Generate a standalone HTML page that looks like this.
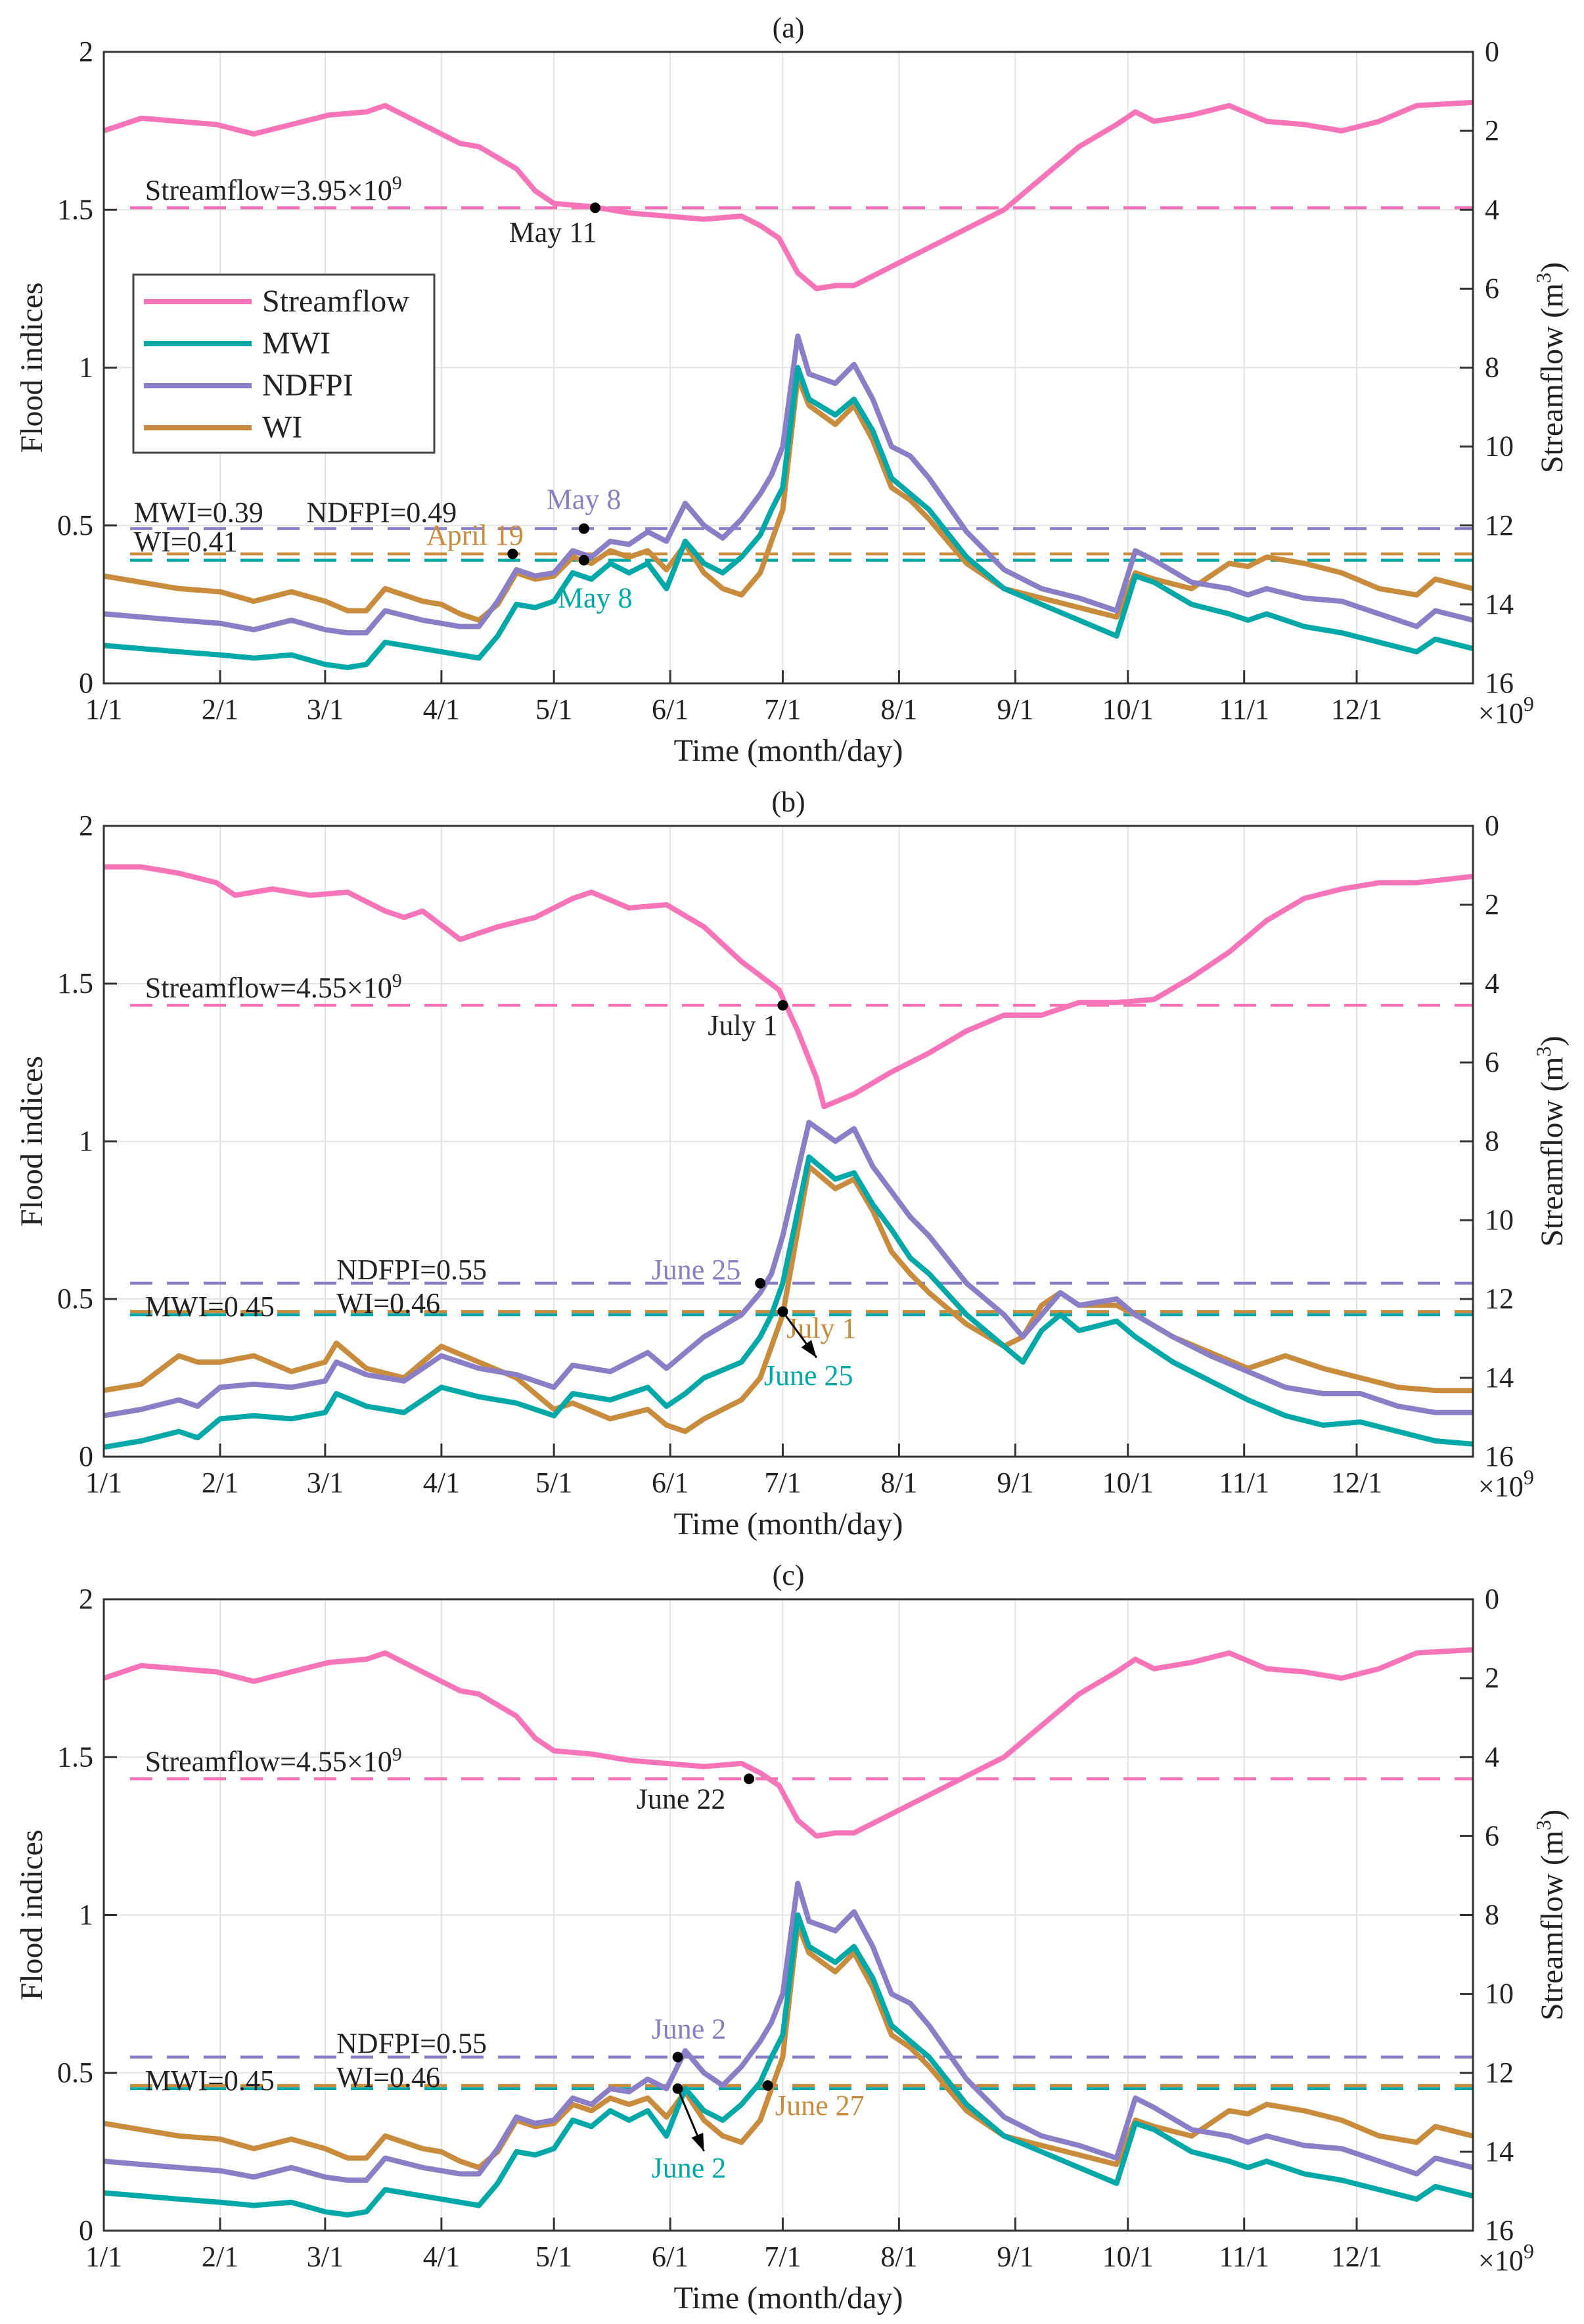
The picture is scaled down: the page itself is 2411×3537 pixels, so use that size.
<!DOCTYPE html>
<html><head><meta charset="utf-8"><style>
html,body{margin:0;padding:0;background:#fff;}
svg{display:block;font-family:"Liberation Serif","DejaVu Serif",serif;}
</style></head><body>
<svg id="fig" xmlns="http://www.w3.org/2000/svg" width="2411" height="3537" viewBox="0 0 2411 3537"></svg>
<script>
// ---- shared data ----
const monthTicks = [0,31,59,90,120,151,181,212,243,273,304,334];
const monthLabels = ["1/1","2/1","3/1","4/1","5/1","6/1","7/1","8/1","9/1","10/1","11/1","12/1"];
const leftTicks = [0,0.5,1,1.5,2];
const leftTickLabels = ["0","0.5","1","1.5","2"];
const rightTicks = [0,2,4,6,8,10,12,14,16];

// panel a / c (same series)
const sfDaysA = [0,10,20,30,40,50,60,70,75,85,95,100,110,115,120,130,140,150,160,170,175,180,185,190,195,200,210,220,230,240,250,260,270,275,280,290,300,310,320,330,340,350,365];
const sfA = [2.0,1.68,1.76,1.84,2.08,1.84,1.6,1.52,1.36,1.84,2.32,2.4,2.96,3.52,3.84,3.92,4.08,4.16,4.24,4.16,4.4,4.72,5.6,6.0,5.92,5.92,5.44,4.96,4.48,4.0,3.2,2.4,1.84,1.52,1.76,1.6,1.36,1.76,1.84,2.0,1.76,1.36,1.28];
const idxDaysA = [0,10,20,31,40,50,59,65,70,75,85,90,95,100,105,110,115,120,125,130,135,140,145,150,155,160,165,170,175,178,181,185,188,195,200,205,210,215,220,230,240,250,260,270,275,280,290,300,305,310,320,330,340,350,355,365];
const mwiA = [0.12,0.11,0.10,0.09,0.08,0.09,0.06,0.05,0.06,0.13,0.11,0.10,0.09,0.08,0.15,0.25,0.24,0.26,0.35,0.33,0.38,0.35,0.38,0.30,0.45,0.38,0.35,0.40,0.47,0.55,0.62,1.00,0.90,0.85,0.90,0.80,0.65,0.60,0.55,0.40,0.30,0.25,0.20,0.15,0.34,0.32,0.25,0.22,0.20,0.22,0.18,0.16,0.13,0.10,0.14,0.11];
const ndfpiA = [0.22,0.21,0.20,0.19,0.17,0.20,0.17,0.16,0.16,0.23,0.20,0.19,0.18,0.18,0.26,0.36,0.34,0.35,0.42,0.40,0.45,0.44,0.48,0.45,0.57,0.50,0.46,0.52,0.60,0.66,0.75,1.10,0.98,0.95,1.01,0.90,0.75,0.72,0.65,0.48,0.36,0.30,0.27,0.23,0.42,0.39,0.32,0.30,0.28,0.30,0.27,0.26,0.22,0.18,0.23,0.20];
const wiA = [0.34,0.32,0.30,0.29,0.26,0.29,0.26,0.23,0.23,0.30,0.26,0.25,0.22,0.20,0.25,0.35,0.33,0.34,0.40,0.38,0.42,0.40,0.42,0.36,0.44,0.35,0.30,0.28,0.35,0.45,0.55,0.97,0.88,0.82,0.88,0.77,0.62,0.58,0.52,0.38,0.30,0.27,0.24,0.21,0.35,0.33,0.30,0.38,0.37,0.40,0.38,0.35,0.30,0.28,0.33,0.30];

// panel b
const sfDaysB = [0,10,20,30,35,45,55,65,75,80,85,95,105,115,125,130,140,150,160,170,180,185,190,192,200,210,220,230,240,250,260,270,280,290,300,310,320,330,340,350,365];
const sfB = [1.04,1.04,1.2,1.44,1.76,1.6,1.76,1.68,2.16,2.32,2.16,2.88,2.56,2.32,1.84,1.68,2.08,2.0,2.56,3.44,4.16,5.2,6.4,7.12,6.8,6.24,5.76,5.2,4.8,4.8,4.48,4.48,4.4,3.84,3.2,2.4,1.84,1.6,1.44,1.44,1.28];
const idxDaysB = [0,10,20,25,31,40,50,59,62,70,80,90,100,110,120,125,135,145,150,155,160,170,175,178,181,188,195,200,205,210,215,220,230,240,245,250,255,260,270,275,285,295,305,315,325,335,345,355,365];
const mwiB = [0.03,0.05,0.08,0.06,0.12,0.13,0.12,0.14,0.20,0.16,0.14,0.22,0.19,0.17,0.13,0.20,0.18,0.22,0.16,0.20,0.25,0.30,0.38,0.45,0.55,0.95,0.88,0.90,0.80,0.72,0.63,0.58,0.45,0.35,0.30,0.40,0.45,0.40,0.43,0.38,0.30,0.24,0.18,0.13,0.10,0.11,0.08,0.05,0.04];
const ndfpiB = [0.13,0.15,0.18,0.16,0.22,0.23,0.22,0.24,0.30,0.26,0.24,0.32,0.28,0.26,0.22,0.29,0.27,0.33,0.28,0.33,0.38,0.45,0.52,0.58,0.70,1.06,1.00,1.04,0.92,0.84,0.76,0.70,0.55,0.45,0.38,0.45,0.52,0.48,0.50,0.45,0.38,0.32,0.27,0.22,0.20,0.20,0.16,0.14,0.14];
const wiB = [0.21,0.23,0.32,0.30,0.30,0.32,0.27,0.30,0.36,0.28,0.25,0.35,0.30,0.25,0.15,0.17,0.12,0.15,0.10,0.08,0.12,0.18,0.25,0.35,0.45,0.92,0.85,0.88,0.78,0.65,0.58,0.52,0.42,0.35,0.38,0.48,0.52,0.48,0.48,0.45,0.38,0.33,0.28,0.32,0.28,0.25,0.22,0.21,0.21];

const thrSfA = 3.95, thrMwiA = 0.39, thrNdA = 0.49, thrWiA = 0.41;
const thrSfB = 4.55, thrMwiB = 0.45, thrNdB = 0.55, thrWiB = 0.46;
const thrSfC = 4.55, thrMwiC = 0.45, thrNdC = 0.55, thrWiC = 0.46;

const C = {sf:"#f774b8", mwi:"#00a8a8", nd:"#8a7fc6", wi:"#c98b3c"};
const NS = "http://www.w3.org/2000/svg";
const fig = document.getElementById('fig');
const L = 158, R = 2242;
const FS = 44;

function mk(tag, attrs, parent, txt){
  const e = document.createElementNS(NS, tag);
  for (const k in attrs) e.setAttribute(k, attrs[k]);
  if (txt !== undefined) e.textContent = txt;
  (parent||fig).appendChild(e);
  return e;
}

function panel(letter, top, bot, sfDays, sf, idxDays, mwi, nd, wi, thr, ann){
  const g = mk('g', {});
  
  
  const X = d => L + (R - L) * d / 365;
  const Y = v => bot - (bot - top) * v / 2;
  const YR = s => top + (bot - top) * s / 16;
  monthTicks.forEach(d => { const l = mk('line', {x1:X(d),x2:X(d),y1:top,y2:bot,stroke:'#e3e3e3','stroke-width':2}, g);
      });
  leftTicks.forEach(v => { const l = mk('line', {x1:L,x2:R,y1:Y(v),y2:Y(v),stroke:'#e3e3e3','stroke-width':2}, g);
      });
  const dash = {'stroke-dasharray':'34,22','stroke-width':4.5};
  [[YR(thr[0]),C.sf,'streamflow-threshold'],[Y(thr[2]),C.nd,'ndfpi-threshold'],[Y(thr[3]),C.wi,'wi-threshold'],[Y(thr[1]),C.mwi,'mwi-threshold']].forEach(t => {
    const l = mk('line', Object.assign({x1:L+40,x2:R,y1:t[0],y2:t[0],stroke:t[1]}, dash), g);
     
  });
  function series(days, vals, yf, color, name){
    const p = mk('polyline', {points: days.map((d,i)=>X(d)+','+yf(vals[i])).join(' '), fill:'none', stroke:color, 'stroke-width':8, 'stroke-linejoin':'round'}, g);
     
  }
  series(sfDays, sf, YR, C.sf, 'streamflow-line');
  series(idxDays, wi, Y, C.wi, 'wi-line');
  series(idxDays, nd, Y, C.nd, 'ndfpi-line');
  series(idxDays, mwi, Y, C.mwi, 'mwi-line');
  const box = mk('rect', {x:L,y:top,width:R-L,height:bot-top,fill:'none',stroke:'#333','stroke-width':3}, g);
   
  monthTicks.forEach((d,i) => {
    mk('line',{x1:X(d),x2:X(d),y1:bot,y2:bot-20,stroke:'#333','stroke-width':3},g);
    const t = mk('text',{x:X(d),y:bot+54,'font-size':FS,'text-anchor':'middle',fill:'#222'},g,monthLabels[i]);
     
  });
  leftTicks.forEach((v,i) => {
    mk('line',{x1:L,x2:L+20,y1:Y(v),y2:Y(v),stroke:'#333','stroke-width':3},g);
    const t = mk('text',{x:L-16,y:Y(v)+14,'font-size':FS,'text-anchor':'end',fill:'#222'},g,leftTickLabels[i]);
     
  });
  rightTicks.forEach(s => {
    mk('line',{x1:R,x2:R-20,y1:YR(s),y2:YR(s),stroke:'#333','stroke-width':3},g);
    const t = mk('text',{x:R+18,y:YR(s)+14,'font-size':FS,'text-anchor':'start',fill:'#222'},g,String(s));
     
  });
  const ex = mk('text',{x:R+8,y:bot+60,'font-size':FS,fill:'#222'},g);
  ex.innerHTML = '×10<tspan dy="-18" font-size="32">9</tspan>';
   
  const ttl = mk('text',{x:(L+R)/2,y:top-22,'font-size':FS,'text-anchor':'middle',fill:'#222'},g,'('+letter+')');
   
  const xl = mk('text',{x:(L+R)/2,y:bot+118,'font-size':48,'text-anchor':'middle',fill:'#222'},g,'Time (month/day)');
   
  const yl = mk('text',{x:0,y:0,'font-size':48,'text-anchor':'middle',fill:'#222',transform:`translate(64,${(top+bot)/2}) rotate(-90)`},g,'Flood indices');
   
  const yr = mk('text',{x:0,y:0,'font-size':48,'text-anchor':'middle',fill:'#222',transform:`translate(2378,${(top+bot)/2}) rotate(-90)`},g);
  yr.innerHTML = 'Streamflow (m<tspan dy="-18" font-size="32">3</tspan><tspan dy="18">)</tspan>';
   
  const sl = mk('text',{x:X(11),y:YR(thr[0])-12,'font-size':FS,fill:'#222'},g);
  sl.innerHTML = 'Streamflow='+thr[0].toFixed(2)+'×10<tspan dy="-16" font-size="30">9</tspan>';
   
  ann.labels.forEach(a => {
    const t = mk('text',{x:X(a[0]),y:a[1],'font-size':FS,fill:a[3]||'#222'},g,a[2]);
     
  });
  ann.points.forEach(p => {
    const c = mk('circle',{cx:X(p[0]),cy:p[2]?YR(p[1]):Y(p[1]),r:8,fill:'#000'},g);
     
  });
  ann.arrows.forEach(a => {
    const x1=X(a[0]),y1=Y(a[1]),x2=X(a[2]),y2=a[3];
    mk('line',{x1:x1,y1:y1,x2:x2,y2:y2,stroke:'#000','stroke-width':3},g);
    const ang=Math.atan2(y2-y1,x2-x1),h=28;
    const pts=[[x2,y2],[x2-h*Math.cos(ang-0.35),y2-h*Math.sin(ang-0.35)],[x2-h*Math.cos(ang+0.35),y2-h*Math.sin(ang+0.35)]];
    const ah = mk('polygon',{points:pts.map(q=>q.join(',')).join(' '),fill:'#000'},g);
     
  });
  return {X,Y,YR,g};
}

// Panel a
const ta=79, ba=1040, ha=ba-ta;
panel('a', ta, ba, sfDaysA, sfA, idxDaysA, mwiA, ndfpiA, wiA, [thrSfA,thrMwiA,thrNdA,thrWiA], {
  labels:[[8,ba-ha/2*0.49-10,'MWI=0.39'],[8,ba-ha/2*0.41-4,'WI=0.41'],[54,ba-ha/2*0.49-10,'NDFPI=0.49'],
    [118,ba-ha/2*0.49-30,'May 8',C.nd],[86,ba-ha/2*0.41-14,'April 19',C.wi],[121,ba-ha/2*0.39+72,'May 8',C.mwi],[108,ta+ha*thrSfA/16+52,'May 11']],
  points:[[131,thrSfA,true],[128,thrNdA],[128,thrMwiA],[109,thrWiA]],
  arrows:[]
});
(function(){
  const lg = mk('g',{});
   
  mk('rect',{x:203,y:418,width:458,height:271,fill:'#fff',stroke:'#444','stroke-width':3},lg);
  [['Streamflow',C.sf],['MWI',C.mwi],['NDFPI',C.nd],['WI',C.wi]].forEach((e,i)=>{
    const y = 459 + i*64;
    const ln = mk('line',{x1:219,x2:383,y1:y,y2:y,stroke:e[1],'stroke-width':8},lg);
     
    const t = mk('text',{x:399,y:y+15,'font-size':48,fill:'#222'},lg,e[0]);
     
  });
})();

// Panel b
const tb=1257, bb=2217, hb=bb-tb;
panel('b', tb, bb, sfDaysB, sfB, idxDaysB, mwiB, ndfpiB, wiB, [thrSfB,thrMwiB,thrNdB,thrWiB], {
  labels:[[11,bb-hb/2*0.45+2,'MWI=0.45'],[62,bb-hb/2*0.46+2,'WI=0.46'],[62,bb-hb/2*0.55-6,'NDFPI=0.55'],
    [146,bb-hb/2*0.55-6,'June 25',C.nd],[182,bb-hb/2*0.46+40,'July 1',C.wi],[176,bb-hb/2*0.46+112,'June 25',C.mwi],[161,tb+hb*thrSfB/16+45,'July 1']],
  points:[[181,thrSfB,true],[175,thrNdB],[181,thrWiB]],
  arrows:[[181,thrWiB,190,bb-hb/2*0.46+70]]
});

// Panel c
const tc=2434, bc=3395, hc=bc-tc;
panel('c', tc, bc, sfDaysA, sfA, idxDaysA, mwiA, ndfpiA, wiA, [thrSfC,thrMwiC,thrNdC,thrWiC], {
  labels:[[11,bc-hc/2*0.45+2,'MWI=0.45'],[62,bc-hc/2*0.46+2,'WI=0.46'],[62,bc-hc/2*0.55-6,'NDFPI=0.55'],
    [146,bc-hc/2*0.55-28,'June 2',C.nd],[179,bc-hc/2*0.46+45,'June 27',C.wi],[146,bc-hc/2*0.46+140,'June 2',C.mwi],[142,tc+hc*thrSfC/16+45,'June 22']],
  points:[[172,thrSfC,true],[153,thrNdC],[153,thrMwiC],[177,thrWiC]],
  arrows:[[153,thrMwiC,160,bc-hc/2*0.46+100]]
});
</script>
</body></html>
